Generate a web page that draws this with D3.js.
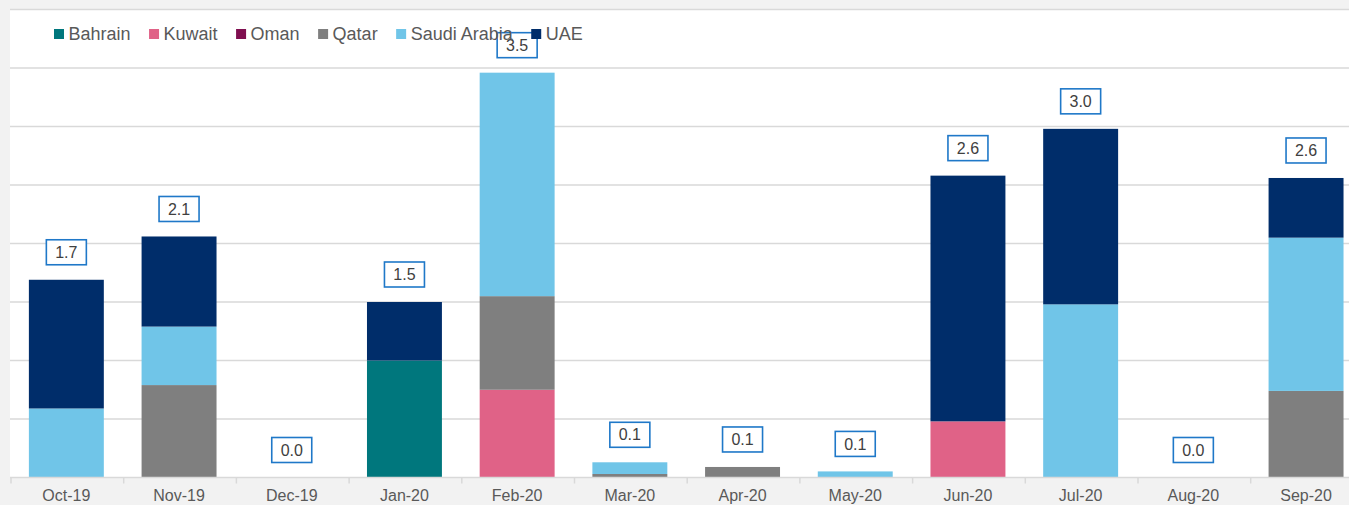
<!DOCTYPE html>
<html>
<head>
<meta charset="utf-8">
<script src="https://cdn.jsdelivr.net/npm/d3@7"></script>
<style>
  html, body { margin: 0; padding: 0; background: #f2f2f2; }
  svg { display: block; font-family: "Liberation Sans", Arial, sans-serif; }
</style>
</head>
<body>
<div id="chart"></div>
<script>
const months = ['Oct-19', 'Nov-19', 'Dec-19', 'Jan-20', 'Feb-20', 'Mar-20', 'Apr-20', 'May-20', 'Jun-20', 'Jul-20', 'Aug-20', 'Sep-20'];
const countries = ['Bahrain', 'Kuwait', 'Oman', 'Qatar', 'Saudi Arabia', 'UAE'];
const colors = ['#00777d', '#e06287', '#7f0f50', '#7f7f7f', '#70c5e8', '#002d6a'];

// values per country, one per month
const bahrain = [0, 0, 0, 1.0, 0, 0, 0, 0, 0, 0, 0, 0];
const kuwait  = [0, 0, 0, 0, 0.75, 0, 0, 0, 0.48, 0, 0, 0];
const oman    = [0, 0, 0, 0, 0, 0, 0, 0, 0, 0, 0, 0];
const qatar   = [0, 0.79, 0, 0, 0.80, 0.03, 0.09, 0, 0, 0, 0, 0.74];
const saudi   = [0.59, 0.50, 0, 0, 1.91, 0.10, 0, 0.052, 0, 1.48, 0, 1.31];
const uae     = [1.10, 0.77, 0, 0.50, 0, 0, 0, 0, 2.10, 1.50, 0, 0.51];

const yTicks = [0, 0.5, 1, 1.5, 2, 2.5, 3, 3.5, 4];

const width = 1349, height = 505;
const plotLeft = 10, plotTop = 9.5, baseY = 477.5;

const rows = months.map((m, i) => ({
  month: m,
  'Bahrain': bahrain[i],
  'Kuwait': kuwait[i],
  'Oman': oman[i],
  'Qatar': qatar[i],
  'Saudi Arabia': saudi[i],
  'UAE': uae[i],
}));

const svg = d3.select('#chart').append('svg')
  .attr('width', width)
  .attr('height', height);

svg.append('rect').attr('width', width).attr('height', height).attr('fill', '#f2f2f2');
svg.append('rect')
  .attr('x', plotLeft).attr('y', plotTop)
  .attr('width', width - plotLeft).attr('height', baseY - plotTop)
  .attr('fill', '#ffffff');

// plot runs a bit past the right edge of the picture (cropped)
const step = 112.7;
const x = d3.scaleBand().domain(months)
  .range([plotLeft, plotLeft + step * months.length])
  .paddingInner(0.335).paddingOuter(0.1675);

const y = d3.scaleLinear().domain([0, 4]).range([baseY, plotTop]);

// gridlines
svg.append('g')
  .selectAll('line')
  .data(yTicks.slice(1))
  .join('line')
  .attr('x1', plotLeft).attr('x2', width)
  .attr('y1', (d) => y(d)).attr('y2', (d) => y(d))
  .attr('stroke', '#d9d9d9')
  .attr('stroke-width', 1.5);

// stacked bars
const stack = d3.stack().keys(countries);
const series = stack(rows);
const color = d3.scaleOrdinal().domain(countries).range(colors);

svg.append('g')
  .selectAll('g')
  .data(series)
  .join('g')
  .attr('fill', (s) => color(s.key))
  .selectAll('rect')
  .data((s) => s.filter((d) => d[1] - d[0] > 0))
  .join('rect')
  .attr('x', (d) => x(d.data.month))
  .attr('y', (d) => y(d[1]))
  .attr('width', x.bandwidth())
  .attr('height', (d) => y(d[0]) - y(d[1]));

// x axis
const xAxis = svg.append('g')
  .attr('transform', `translate(0,${baseY})`)
  .call(d3.axisBottom(x).tickSize(0).tickPadding(12));
xAxis.select('.domain').remove();
xAxis.selectAll('text')
  .attr('fill', '#595959')
  .style('font-size', '16px');

svg.append('line')
  .attr('x1', plotLeft).attr('x2', width)
  .attr('y1', baseY).attr('y2', baseY)
  .attr('stroke', '#d9d9d9').attr('stroke-width', 1.5);

svg.append('g')
  .selectAll('line')
  .data(d3.range(months.length + 1))
  .join('line')
  .attr('x1', (i) => plotLeft + 1 + i * x.step())
  .attr('x2', (i) => plotLeft + 1 + i * x.step())
  .attr('y1', baseY).attr('y2', baseY + 6)
  .attr('stroke', '#d9d9d9').attr('stroke-width', 1.5);

// total labels
const totals = rows.map((r) => countries.reduce((s, k) => s + r[k], 0));
const lbl = svg.append('g')
  .selectAll('g')
  .data(months)
  .join('g')
  .attr('transform', (m, i) => `translate(${x(m) + x.bandwidth() / 2},${y(totals[i]) - 14})`);

lbl.append('rect')
  .attr('x', -20).attr('y', -26)
  .attr('width', 40).attr('height', 25)
  .attr('fill', '#ffffff')
  .attr('stroke', '#1f78c8')
  .attr('stroke-width', 1.6);

lbl.append('text')
  .attr('y', -13.5)
  .attr('dy', '0.35em')
  .attr('text-anchor', 'middle')
  .attr('fill', '#404040')
  .style('font-size', '16px')
  .text((m, i) => totals[i].toFixed(1));

// legend (text stays visible over the Feb label box)
const legend = svg.append('g').attr('transform', 'translate(54,34)');
let lx = 0;
countries.forEach((c, i) => {
  const item = legend.append('g').attr('transform', `translate(${lx},0)`);
  item.append('rect')
    .attr('x', 0).attr('y', -5)
    .attr('width', 10).attr('height', 10)
    .attr('fill', colors[i]);
  const t = item.append('text')
    .attr('x', 14.5)
    .attr('dy', '0.35em')
    .attr('fill', '#595959')
    .style('font-size', '18px')
    .text(c);
  lx += 14.5 + t.node().getComputedTextLength() + 18.5;
});
</script>
</body>
</html>
